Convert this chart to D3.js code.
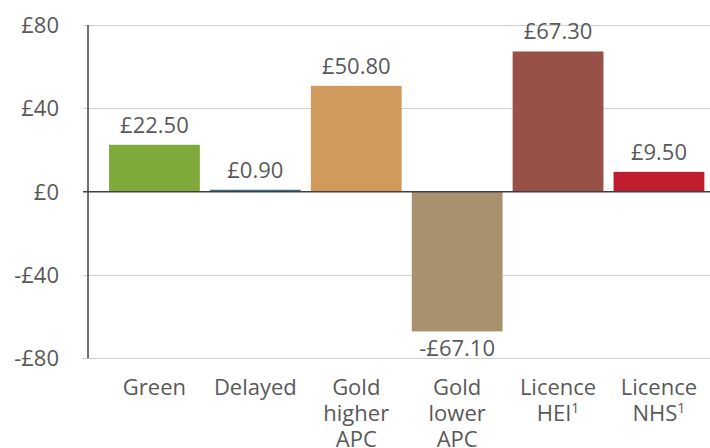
<!DOCTYPE html>
<html><head><meta charset="utf-8">
<script src="https://cdn.jsdelivr.net/npm/d3@7"></script>
<style>
html,body{margin:0;padding:0;background:#fff;}
svg{display:block;}
text{font-family:"Open Sans",sans-serif;fill:#595959;}
</style></head>
<body>
<svg id="chart" width="710" height="448"></svg>
<script>
const categories = [["Green"],["Delayed"],["Gold","higher","APC"],["Gold","lower","APC"],["Licence","HEI¹"],["Licence","NHS¹"]];
const values = [22.5, 0.9, 50.8, -67.1, 67.3, 9.5];
const labels = ["£22.50","£0.90","£50.80","-£67.10","£67.30","£9.50"];
const colors = ["#7faa3b","#2f6b8e","#d09a5c","#aa916e","#985146","#bf1e2e"];
const yTicks = [80, 40, 0, -40, -80];
const yTickLabels = ["£80","£40","£0","-£40","-£80"];

const svg = d3.select("#chart");
const y = d3.scaleLinear().domain([-80, 80]).range([358.3, 25]);
const x = d3.scaleBand().domain(d3.range(categories.length)).range([104, 709.4]).paddingInner(0.1).paddingOuter(0.05);
const axisX = 88;

// gridlines
svg.append("g").selectAll("line").data(yTicks.filter(d => d !== 0)).join("line")
  .attr("x1", axisX - 5).attr("x2", 710)
  .attr("y1", d => Math.round(y(d)) + 0.5).attr("y2", d => Math.round(y(d)) + 0.5)
  .attr("stroke", "#d0d0d0").attr("stroke-width", 1.2);

// bars
svg.append("g").selectAll("rect").data(values).join("rect")
  .attr("x", (d, i) => x(i)).attr("width", x.bandwidth())
  .attr("y", d => y(Math.max(0, d)))
  .attr("height", d => Math.abs(y(d) - y(0)))
  .attr("fill", (d, i) => colors[i]);

// zero line
svg.append("line").attr("x1", axisX - 5).attr("x2", 710)
  .attr("y1", y(0)).attr("y2", y(0))
  .attr("stroke", "#404040").attr("stroke-width", 1.5);

// y axis line
svg.append("line").attr("x1", axisX).attr("x2", axisX)
  .attr("y1", y(80)).attr("y2", y(-80))
  .attr("stroke", "#404040").attr("stroke-width", 1.5);

// y tick labels
svg.append("g").selectAll("text").data(yTicks).join("text")
  .attr("x", 59).attr("y", d => y(d)).attr("dy", "0.36em")
  .attr("text-anchor", "end").attr("font-size", 22)
  .text((d, i) => yTickLabels[i]);

// value labels
svg.append("g").selectAll("text").data(values).join("text")
  .attr("x", (d, i) => x(i) + x.bandwidth() / 2)
  .attr("y", d => d >= 0 ? y(d) - 12 : y(d) + 25)
  .attr("text-anchor", "middle").attr("font-size", 22)
  .text((d, i) => labels[i]);

// category labels (one text element per line)
const catG = svg.append("g");
categories.forEach((lines, i) => {
  const cx = x(i) + x.bandwidth() / 2;
  lines.forEach((ln, j) => {
    const sup = ln.endsWith("¹");
    const t = catG.append("text").attr("x", cx).attr("y", 395 + j * 26)
      .attr("text-anchor", "middle").attr("font-size", 22);
    t.append("tspan").text(sup ? ln.slice(0, -1) : ln);
    if (sup) t.append("tspan").attr("font-size", 14).attr("dy", -8).text("1");
  });
});
</script>
</body></html>
